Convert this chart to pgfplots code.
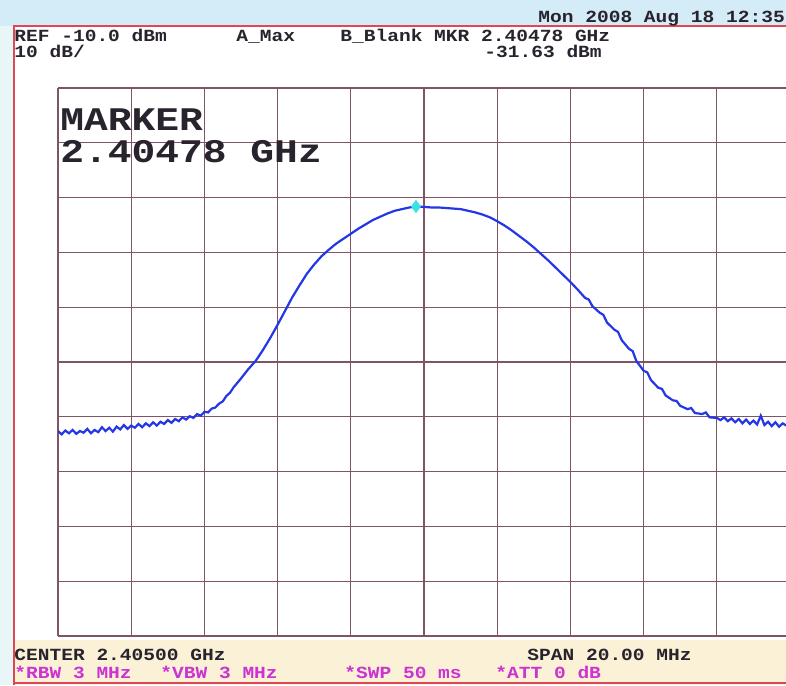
\documentclass[border=0pt]{standalone}
\usepackage{pgfplots}
\pgfplotsset{compat=1.18}
\usepackage{fontspec}
\newfontfamily\scr{Liberation Mono}[FakeStretch=1.15]
\newfontfamily\mk{Liberation Mono}[FakeStretch=1.2]

\definecolor{gridc}{RGB}{125,85,100}
\definecolor{frame}{RGB}{225,70,85}
\definecolor{trace}{RGB}{35,55,230}
\definecolor{mag}{RGB}{205,50,210}
\definecolor{ink}{RGB}{40,35,45}
\definecolor{band}{RGB}{251,241,214}
\definecolor{topbg}{RGB}{212,236,248}
\definecolor{sidebg}{RGB}{232,246,248}
\definecolor{mkc}{RGB}{60,225,230}

\begin{document}
\begin{tikzpicture}[x=0.5pt,y=-0.5pt]
\useasboundingbox (0,0) rectangle (786,685);
\clip (0,0) rectangle (786,685);
% screen background
\fill[sidebg] (0,0) rectangle (786,685);
\fill[topbg] (0,0) rectangle (786,26);
\fill[white] (14,26) rectangle (786,640);
\fill[band] (14,640) rectangle (786,683);
\draw[frame, line width=1pt] (14,685) -- (14,26) -- (786,26);
\draw[frame, line width=1.2pt] (14,683) -- (786,683);

\begin{axis}[
    at={(29pt,-318pt)}, anchor=south west,
    width=364pt, height=274pt, scale only axis,
    xmin=2395, xmax=2414.89, ymin=-110, ymax=-10,
    xtick={2395,2397,...,2413}, ytick={-110,-100,...,-10},
    xticklabels={}, yticklabels={},
    grid=major, major grid style={gridc, line width=0.6pt},
    axis line style={draw=none}, tick style={draw=none}]
\addplot[trace, line width=1.1pt] coordinates {
(2395.0,-72.6) (2395.1,-73.2) (2395.2,-72.5) (2395.3,-73.0) (2395.4,-72.4)
(2395.5,-73.1) (2395.6,-72.6) (2395.7,-72.9) (2395.8,-72.2) (2395.9,-73.0)
(2396.0,-72.4) (2396.1,-72.8) (2396.2,-71.9) (2396.3,-72.6) (2396.4,-72.0)
(2396.5,-72.7) (2396.6,-71.8) (2396.7,-72.3) (2396.8,-71.5) (2396.9,-72.2)
(2397.0,-71.6) (2397.1,-72.0) (2397.2,-71.3) (2397.3,-71.9) (2397.4,-71.2)
(2397.5,-71.7) (2397.6,-71.0) (2397.7,-71.6) (2397.8,-70.9) (2397.9,-71.3)
(2398.0,-70.6) (2398.1,-71.1) (2398.2,-70.4) (2398.3,-70.8) (2398.4,-70.1)
(2398.5,-70.5) (2398.6,-69.9) (2398.7,-70.2) (2398.8,-69.5) (2398.9,-69.8)
(2399.0,-69.1) (2399.1,-69.2) (2399.2,-68.5) (2399.3,-68.3) (2399.4,-67.6)
(2399.5,-67.2) (2399.6,-66.2) (2399.7,-65.6) (2399.8,-64.6) (2399.9,-63.8)
(2400.0,-63.0) (2400.2,-61.3) (2400.4,-59.8) (2400.6,-57.8) (2400.8,-55.6)
(2401.0,-53.2) (2401.2,-50.7) (2401.4,-48.2) (2401.6,-46.0) (2401.8,-43.9)
(2402.0,-42.2) (2402.2,-40.7) (2402.4,-39.5) (2402.6,-38.4) (2402.8,-37.5)
(2403.0,-36.6) (2403.2,-35.7) (2403.4,-34.9) (2403.6,-34.1) (2403.8,-33.5)
(2404.0,-32.9) (2404.2,-32.4) (2404.4,-32.1) (2404.6,-31.8) (2404.78,-31.63)
(2405.0,-31.7) (2405.2,-31.8) (2405.4,-31.8) (2405.6,-31.9) (2405.8,-32.0)
(2406.0,-32.1) (2406.2,-32.4) (2406.4,-32.7) (2406.6,-33.1) (2406.8,-33.6)
(2407.0,-34.3) (2407.2,-35.1) (2407.4,-36.0) (2407.6,-37.0) (2407.8,-38.0)
(2408.0,-39.1) (2408.2,-40.3) (2408.4,-41.5) (2408.6,-42.8) (2408.8,-44.1)
(2409.0,-45.4) (2409.2,-46.8) (2409.4,-48.3) (2409.5,-48.6) (2409.6,-49.8)
(2409.8,-51.0) (2409.9,-51.4) (2410.0,-52.8) (2410.2,-54.1) (2410.3,-54.5)
(2410.4,-56.0) (2410.6,-57.6) (2410.7,-58.0) (2410.8,-59.8) (2411.0,-61.6)
(2411.1,-61.9) (2411.2,-63.3) (2411.4,-64.7) (2411.5,-64.9) (2411.6,-66.1)
(2411.8,-67.0) (2411.9,-67.1) (2412.0,-68.0) (2412.2,-68.6) (2412.3,-68.4)
(2412.4,-69.3) (2412.6,-69.5) (2412.7,-69.2) (2412.8,-70.1) (2413.0,-70.2)
(2413.1,-70.6) (2413.2,-70.1) (2413.3,-70.8) (2413.4,-70.3) (2413.5,-71.0)
(2413.6,-70.4) (2413.7,-71.2) (2413.8,-70.5) (2413.9,-71.3) (2414.0,-70.7)
(2414.1,-71.4) (2414.2,-69.8) (2414.3,-71.5) (2414.4,-70.9) (2414.5,-71.7)
(2414.6,-71.0) (2414.7,-71.8) (2414.8,-71.2) (2414.9,-71.6)
};
\addplot[only marks, mark=diamond*, mark size=3pt, color=mkc] coordinates {(2404.78,-31.63)};
\end{axis}

% header
\begin{scope}[every node/.style={inner sep=0pt, anchor=base west, text=ink,
    font=\scr\bfseries\fontsize{8.5}{9}\selectfont}]
\node at (538,22) {Mon 2008 Aug 18 12:35};
\node at (14,41) {REF -10.0 dBm};
\node at (236,41) {A\_Max};
\node at (340,41) {B\_Blank MKR 2.40478 GHz};
\node at (14,57) {10 dB/};
\node at (484,57) {-31.63 dBm};
\node at (14,660) {CENTER 2.40500 GHz};
\node at (527,660) {SPAN 20.00 MHz};
\end{scope}
\begin{scope}[every node/.style={inner sep=0pt, anchor=base west, text=mag,
    font=\scr\bfseries\fontsize{8.5}{9}\selectfont}]
\node at (14,678) {*RBW 3 MHz};
\node at (160,678) {*VBW 3 MHz};
\node at (344,678) {*SWP 50 ms};
\node at (495,678) {*ATT 0 dB};
\end{scope}
% marker readout
\node[inner sep=0pt, anchor=base west, text=ink, font=\mk\bfseries\fontsize{16.5}{17}\selectfont] at (60,130) {MARKER};
\node[inner sep=0pt, anchor=base west, text=ink, font=\mk\bfseries\fontsize{16.5}{17}\selectfont] at (60,162) {2.40478 GHz};
\end{tikzpicture}
\end{document}
